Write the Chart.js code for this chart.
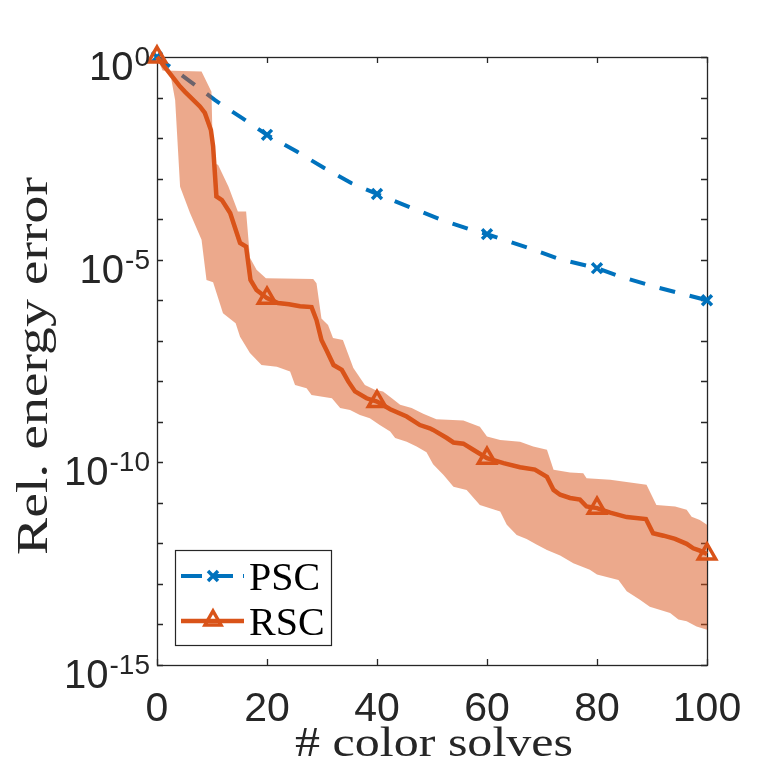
<!DOCTYPE html>
<html>
<head>
<meta charset="utf-8">
<script src="https://cdn.jsdelivr.net/npm/chart.js@4/dist/chart.umd.min.js"></script>
<style>html,body{margin:0;padding:0;background:#fff;}canvas{display:block;}</style>
</head>
<body>
<canvas id="c" width="781" height="781"></canvas>
<script>
// ---- data (y values are log10 exponents) ----
const xTicks = [0, 20, 40, 60, 80, 100];
const yTickExps = [0, -5, -10, -15];

const pscX   = [0, 6, 10.5, 15.5, 20, 25.5, 30.4, 35.3, 40, 46, 51.6, 56.8, 60, 67.5, 73.3, 80, 84.5, 90.3, 100];
const pscExp = [0, -0.60, -1.06, -1.51, -1.92, -2.34, -2.74, -3.11, -3.38, -3.71, -4.01, -4.25, -4.37, -4.71, -4.99, -5.21, -5.43, -5.66, -6.00];

const rscX   = [0, 4.2, 5.1, 7.8, 8.7, 9.8, 10.2, 10.8, 11.8, 13.3, 15.1, 16.2, 17.0, 18.1, 20, 22, 24, 26, 28.1, 29.0, 29.9, 30.8, 32.1, 33.6, 34.8, 36.0, 38.1, 40, 42.4, 45.4, 47.8, 49.6, 50.2, 52.7, 53.9, 55.7, 57.5, 60, 63, 66, 68.7, 70.9, 72.1, 73.3, 75.1, 76.9, 78.1, 80, 82.4, 85.4, 88.9, 90.2, 92.1, 94.2, 96.3, 97.5, 98.7, 100];
const rscExp = [0, -0.73, -0.86, -1.22, -1.38, -1.80, -2.20, -3.44, -3.53, -3.85, -4.59, -4.68, -5.50, -5.75, -5.95, -6.07, -6.10, -6.15, -6.17, -6.49, -6.98, -7.23, -7.60, -7.72, -8.01, -8.25, -8.42, -8.50, -8.69, -8.87, -9.08, -9.16, -9.20, -9.40, -9.51, -9.54, -9.69, -9.90, -10.02, -10.12, -10.18, -10.36, -10.68, -10.80, -10.88, -10.92, -11.09, -11.13, -11.24, -11.35, -11.40, -11.75, -11.81, -11.89, -12.01, -12.12, -12.18, -12.26];

const upX   = [0, 1, 8.1, 9.9, 10.2, 11.1, 13.0, 14.7, 16.2, 16.9, 18.1, 19.8, 28.4, 29.0, 29.9, 31.1, 32.0, 33.8, 35.7, 37.8, 39.6, 41.1, 42.7, 44.2, 46.3, 48.4, 50.8, 55.7, 58.7, 60.0, 62.4, 66.0, 68.4, 70.9, 72.1, 75.1, 77.5, 78.1, 82.4, 89.0, 90.8, 94.2, 96.3, 97.2, 98.7, 100];
const upExp = [0, -0.33, -0.36, -0.86, -2.62, -2.66, -3.20, -3.81, -3.81, -4.95, -5.25, -5.46, -5.48, -5.58, -6.45, -6.61, -6.93, -6.98, -7.67, -8.09, -8.21, -8.25, -8.42, -8.58, -8.66, -8.80, -8.94, -8.97, -9.12, -9.36, -9.45, -9.49, -9.61, -9.69, -10.18, -10.25, -10.27, -10.39, -10.43, -10.55, -11.05, -11.09, -11.17, -11.34, -11.42, -11.54];

const loX   = [0, 2.4, 3.3, 4.2, 6.0, 8.1, 9.0, 10.2, 12.0, 14.3, 15.1, 16.9, 19.0, 21.8, 24.2, 25.1, 27.2, 28.1, 31.8, 33.3, 35.1, 36.9, 38.7, 40.5, 42.4, 43.3, 45.4, 47.2, 49.0, 50.2, 52.1, 53.9, 56.3, 58.7, 62.4, 63.6, 65.4, 67.2, 69.0, 70.9, 73.3, 75.7, 78.7, 80.0, 83.9, 85.4, 87.8, 89.6, 93.3, 94.8, 96.3, 98.1, 100];
const loExp = [0, -0.40, -1.06, -3.20, -3.85, -4.51, -5.50, -5.56, -6.32, -6.57, -6.90, -7.30, -7.60, -7.64, -7.76, -8.09, -8.17, -8.34, -8.42, -8.66, -8.71, -8.83, -8.91, -9.08, -9.24, -9.40, -9.49, -9.61, -9.75, -10.05, -10.31, -10.60, -10.68, -11.05, -11.21, -11.54, -11.79, -11.89, -12.03, -12.16, -12.30, -12.49, -12.65, -12.77, -12.90, -13.18, -13.39, -13.56, -13.72, -13.88, -13.92, -14.05, -14.13];

const seriesNames = ['PSC', 'RSC'];
const xTitle = '# color solves';
const yTitle = 'Rel. energy error';

// ---- build ----
const pts = (xs, es) => xs.map((x, i) => ({x: x, y: Math.pow(10, es[i])}));
const BLUE = '#0072BD', ORANGE = '#D95319', BAND = 'rgba(217,83,25,0.5)', AX = '#262626';
const isMarker = ctx => ctx.raw && xTicks.includes(ctx.raw.x);

const L = 157, T = 57, R = 707, B = 665;

const framePlugin = {
  id: 'frame',
  beforeDatasetsDraw(chart) {
    const ctx = chart.ctx, xs = chart.scales.x, ys = chart.scales.y;
    ctx.save();
    ctx.strokeStyle = AX; ctx.lineWidth = 1.3;
    ctx.strokeRect(L + 0.5, T + 0.5, R - L, B - T);
    ctx.beginPath();
    xTicks.forEach(v => {
      const p = Math.round(xs.getPixelForValue(v)) + 0.5;
      ctx.moveTo(p, B); ctx.lineTo(p, B - 6);
      ctx.moveTo(p, T); ctx.lineTo(p, T + 6);
    });
    for (let e = 0; e >= -15; e--) {
      const p = Math.round(ys.getPixelForValue(Math.pow(10, e))) + 0.5;
      ctx.moveTo(L, p); ctx.lineTo(L + 6, p);
      ctx.moveTo(R, p); ctx.lineTo(R - 6, p);
    }
    ctx.stroke();
    ctx.restore();
  },
  afterDraw(chart) {
    const ctx = chart.ctx, xs = chart.scales.x, ys = chart.scales.y;
    ctx.save();
    ctx.fillStyle = AX;
    // x tick labels
    ctx.font = '41px "Liberation Sans", Arial, sans-serif';
    ctx.textAlign = 'center'; ctx.textBaseline = 'alphabetic';
    xTicks.forEach(v => ctx.fillText(String(v), xs.getPixelForValue(v), 721));
    // y tick labels with superscript
    yTickExps.forEach(e => {
      const py = ys.getPixelForValue(Math.pow(10, e));
      const sup = String(e);
      ctx.font = '28px "Liberation Sans", Arial, sans-serif';
      const ws = ctx.measureText(sup).width;
      ctx.textAlign = 'right';
      ctx.fillText(sup, 150, py + 9);
      ctx.font = '40px "Liberation Sans", Arial, sans-serif';
      ctx.fillText('10', 150 - ws - 1, py + 23);
    });
    // axis titles
    ctx.font = '42px "Liberation Serif", "Times New Roman", serif';
    ctx.textAlign = 'center';
    let w = ctx.measureText(xTitle).width;
    ctx.save();
    ctx.translate(434, 756);
    ctx.scale(278 / w, 1);
    ctx.fillText(xTitle, 0, 0);
    ctx.restore();
    ctx.font = '44px "Liberation Serif", "Times New Roman", serif';
    w = ctx.measureText(yTitle).width;
    ctx.save();
    ctx.translate(47, 366);
    ctx.rotate(-Math.PI / 2);
    ctx.scale(378 / w, 1);
    ctx.fillText(yTitle, 0, 0);
    ctx.restore();
    // legend
    ctx.fillStyle = '#fff';
    ctx.fillRect(175, 550, 156, 95);
    ctx.strokeStyle = AX; ctx.lineWidth = 1.2;
    ctx.strokeRect(175.5, 550.5, 156, 95);
    // PSC sample
    ctx.strokeStyle = BLUE; ctx.lineWidth = 4;
    ctx.setLineDash([21, 10]);
    ctx.beginPath(); ctx.moveTo(181, 576); ctx.lineTo(244, 576); ctx.stroke();
    ctx.setLineDash([]);
    ctx.lineWidth = 3.5;
    ctx.beginPath();
    ctx.moveTo(208, 571); ctx.lineTo(218, 581);
    ctx.moveTo(218, 571); ctx.lineTo(208, 581);
    ctx.stroke();
    // RSC sample
    ctx.strokeStyle = ORANGE; ctx.lineWidth = 4.5;
    ctx.beginPath(); ctx.moveTo(181, 621); ctx.lineTo(244, 621); ctx.stroke();
    ctx.lineWidth = 3.5;
    ctx.beginPath();
    ctx.moveTo(213, 611); ctx.lineTo(221, 625); ctx.lineTo(205, 625); ctx.closePath();
    ctx.stroke();
    // legend text
    ctx.fillStyle = '#000';
    ctx.font = '40px "Liberation Serif", "Times New Roman", serif';
    ctx.textAlign = 'left';
    ctx.fillText(seriesNames[0], 249, 590);
    ctx.fillText(seriesNames[1], 249, 635);
    ctx.restore();
  }
};

new Chart(document.getElementById('c'), {
  type: 'line',
  data: {
    datasets: [
      { label: 'RSC', data: pts(rscX, rscExp), borderColor: ORANGE, borderWidth: 4.5,
        pointStyle: 'triangle', pointRadius: c => isMarker(c) ? 10 : 0, pointBorderWidth: 3.5,
        pointBorderColor: ORANGE, pointBackgroundColor: 'rgba(0,0,0,0)', fill: false,
        tension: 0, order: 0, clip: false },
      { label: 'RSC max', data: pts(upX, upExp), borderWidth: 0, borderColor: 'rgba(0,0,0,0)',
        pointRadius: 0, backgroundColor: BAND, fill: 2, tension: 0, order: 1 },
      { label: 'RSC min', data: pts(loX, loExp), borderWidth: 0, borderColor: 'rgba(0,0,0,0)',
        pointRadius: 0, fill: false, tension: 0, order: 1 },
      { label: 'PSC', data: pts(pscX, pscExp), borderColor: BLUE, borderWidth: 4,
        borderDash: [16, 15], pointStyle: 'crossRot', pointRadius: c => isMarker(c) ? 7 : 0,
        pointBorderWidth: 3.5, pointBorderColor: BLUE, fill: false, tension: 0, order: 3, clip: false }
    ]
  },
  options: {
    responsive: false,
    animation: false,
    events: [],
    layout: { padding: { left: 0, top: T, right: 781 - R, bottom: 0 } },
    plugins: { legend: { display: false }, tooltip: { enabled: false } },
    scales: {
      x: { type: 'linear', min: 0, max: 100,
           grid: { display: false }, border: { display: false },
           ticks: { display: false },
           afterFit: s => { s.height = 781 - B; } },
      y: { type: 'logarithmic', min: 1e-15, max: 1,
           grid: { display: false }, border: { display: false },
           ticks: { display: false },
           afterFit: s => { s.width = L; } }
    }
  },
  plugins: [framePlugin]
});
</script>
</body>
</html>
